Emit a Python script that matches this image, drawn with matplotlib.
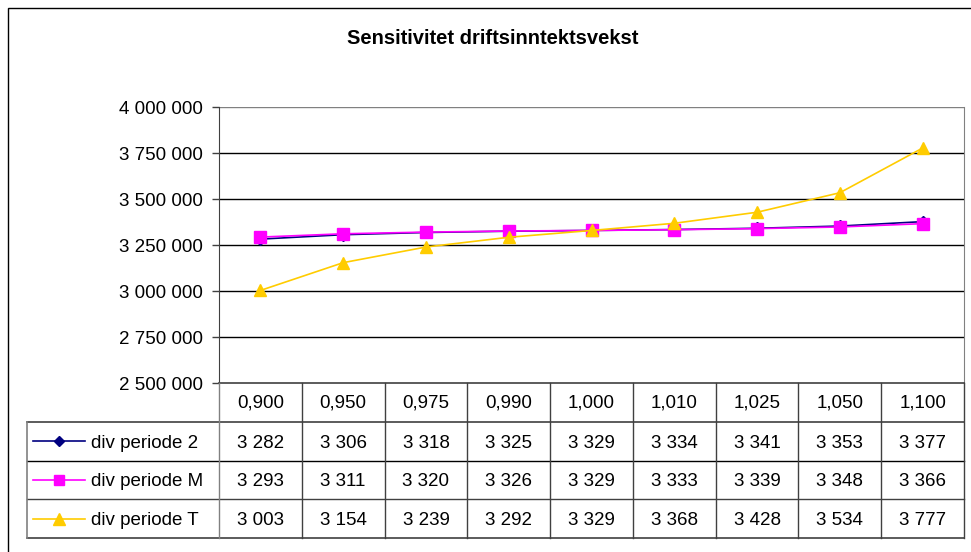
import matplotlib.pyplot as plt
import numpy as np

plt.rcParams.update({
    "font.family": ["Liberation Sans", "DejaVu Sans"],
    "font.size": 13.5,
})

factors = ["0,900", "0,950", "0,975", "0,990", "1,000", "1,010", "1,025", "1,050", "1,100"]
div_2 = [3282, 3306, 3318, 3325, 3329, 3334, 3341, 3353, 3377]
div_m = [3293, 3311, 3320, 3326, 3329, 3333, 3339, 3348, 3366]
div_t = [3003, 3154, 3239, 3292, 3329, 3368, 3428, 3534, 3777]
names = ["div periode 2", "div periode M", "div periode T"]
colors = ["#000080", "#FF00FF", "#FFCC00"]
markers = ["D", "s", "^"]
msizes = [6, 8, 9]
FS = 13.5

W, H = 971, 552
fig = plt.figure(figsize=(W / 100, H / 100), dpi=100)

# outer chart border
fig.add_artist(plt.Rectangle((8 / W, -0.1), 1.2, 1 - 8 / H + 0.1, transform=fig.transFigure,
                             fill=False, edgecolor="black", linewidth=1))

fig.text(493 / W, 1 - 38 / H, "Sensitivitet driftsinntektsvekst", ha="center", va="center",
         fontsize=14.5, fontweight="bold")

# plot area
x_l, x_r, y_t, y_b = 219, 964, 107, 383
ax = fig.add_axes([x_l / W, 1 - y_b / H, (x_r - x_l) / W, (y_b - y_t) / H])
x = np.arange(len(factors))
series = [div_2, div_m, div_t]
for vals, name, c, m, ms in zip(series, names, colors, markers, msizes):
    ax.plot(x, np.array(vals) * 1000, color=c, marker=m, markersize=ms, linewidth=1.2,
            label=name, zorder=3)

ax.set_xlim(-0.5, len(factors) - 0.5)
ax.set_ylim(2500000, 4000000)
yt = np.arange(2500000, 4000001, 250000)
ax.set_yticks(yt)
ax.set_yticklabels([f"{v:,}".replace(",", " ") for v in yt], fontsize=FS)
ax.set_xticks([])
ax.tick_params(axis="y", length=5, width=1, color="#404040", pad=6.5)
for v in yt[1:-1]:
    ax.axhline(v, color="black", linewidth=1, zorder=1)
ax.axhline(yt[-1], color="#808080", linewidth=1, zorder=1)
ax.spines["left"].set_color("#404040")
ax.spines["right"].set_color("#808080")
ax.spines["top"].set_visible(False)
ax.spines["bottom"].set_visible(False)

# data table
t_l, t_b = 27, 538
col_w = (x_r - x_l) / len(factors)
left_val = -0.5 - (x_l - t_l) / col_w
tax = fig.add_axes([t_l / W, 1 - t_b / H, (x_r - t_l) / W, (t_b - y_b) / H])
tax.set_xlim(left_val, len(factors) - 0.5)
tax.set_ylim(4, 0)
tax.axis("off")

lc = "#404040"
tax.plot([-0.5, len(factors) - 0.5], [0, 0], color=lc, linewidth=1.2, clip_on=False)
for r in range(1, 5):
    tax.plot([left_val, len(factors) - 0.5], [r, r], color=lc if r != 2 else "black",
             linewidth=1.2 if r in (1, 4) else 1, clip_on=False)
tax.plot([left_val, left_val], [1, 4], color="#808080", linewidth=1.2, clip_on=False)
for i in range(len(factors) + 1):
    tax.plot([i - 0.5, i - 0.5], [0, 4], color=lc if i > 0 else "#808080", linewidth=1,
             clip_on=False)

for i, f in enumerate(factors):
    tax.text(i, 0.52, f, ha="center", va="center", fontsize=FS)
for r, (vals, name, c, m, ms) in enumerate(zip(series, names, colors, markers, msizes), start=1):
    for i, v in enumerate(vals):
        tax.text(i, r + 0.55, f"{v:,}".replace(",", " "), ha="center", va="center", fontsize=FS)
    lx0 = left_val + 6 / col_w
    lx1 = left_val + 58 / col_w
    tax.plot([lx0, lx1], [r + 0.5, r + 0.5], color=c, linewidth=1.2, clip_on=False)
    tax.plot([(lx0 + lx1) / 2], [r + 0.5], color=c, marker=m, markersize=ms - 1, clip_on=False)
    tax.text(left_val + 64 / col_w, r + 0.55, name, ha="left", va="center", fontsize=FS)

fig.savefig("out.png", dpi=100)
